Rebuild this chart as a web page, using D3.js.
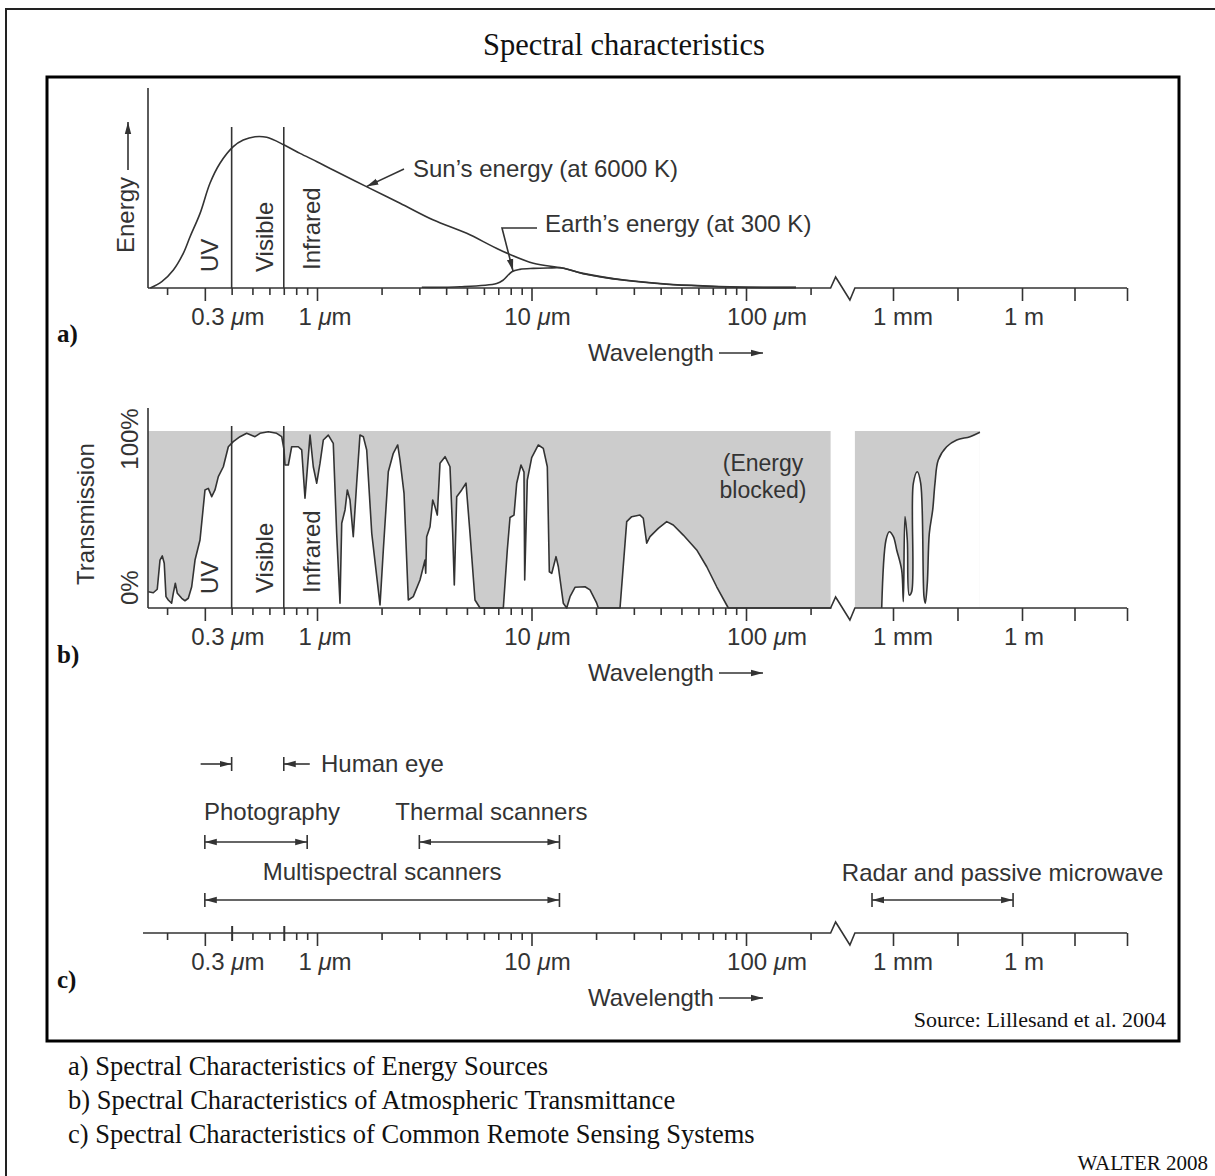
<!DOCTYPE html>
<html>
<head>
<meta charset="utf-8">
<title>Spectral characteristics</title>
<script src="https://cdn.jsdelivr.net/npm/d3@7"></script>
<style>
  html, body { margin: 0; padding: 0; background: #fff; }
  svg { display: block; }
</style>
</head>
<body>
<svg id="chart" width="1215" height="1176"></svg>
<script>
// ---------- data ----------
// wavelength ticks, near-infrared side of the break (micrometres)
const nearMajorTicks = [0.3, 1, 10, 100];
const nearMinorTicks = [0.2, 0.4, 0.5, 0.6, 0.7, 0.8, 0.9,
                        2, 3, 4, 5, 6, 7, 8, 9,
                        20, 30, 40, 50, 60, 70, 80, 90, 200];
const nearTickLabels = ["0.3 μm", "1 μm", "10 μm", "100 μm"];
// far side of the break (millimetres)
const farTicks = [1, 31.6, 1000, 10000, 100000];
const farLabelTicks = [1, 1000];
const farTickLabels = ["1 mm", "1 m"];

// spectral region boundaries (μm) and names
const regionBounds = [0.4, 0.7];
const regionNames = ["UV", "Visible", "Infrared"];

// a) energy curves: [wavelength μm, relative energy]
const sunEnergy = [
  [0.167, 0], [0.189, 3.2], [0.214, 9.1], [0.238, 17.5], [0.256, 25.9], [0.285, 37.7],
  [0.317, 52.9], [0.353, 63], [0.407, 71.4], [0.453, 74.7], [0.514, 76.4], [0.583, 76.1],
  [0.704, 72.2], [0.833, 68], [1.0, 63.8], [1.19, 59.6], [1.70, 51.2], [2.44, 42.8],
  [3.49, 34.3], [4.99, 27.6], [7.13, 19.2], [10.2, 12.5], [13.9, 10.1], [17.4, 7.4],
  [27.1, 4.0], [42.4, 2.0], [66.2, 1.0], [103, 0.4], [171, 0.35]
];
const earthEnergy = [
  [3.08, 0.35], [4.65, 0.6], [6.88, 2.3], [7.38, 4.0], [8.1, 8.2], [8.83, 9.4],
  [10.2, 9.9], [11.9, 10.1], [13.9, 10.1], [17.4, 7.2], [27.1, 3.9], [42.4, 1.9],
  [66.2, 0.9], [103, 0.3], [171, 0.2]
];

// b) atmospheric transmission: [wavelength μm, percent]
const transmissionNear = [
  [0.1635, 9.2], [0.1725, 8.6], [0.180, 10.6], [0.1854, 27.1], [0.190, 29.4], [0.194, 25.3],
  [0.1977, 6.4], [0.2026, 4.5], [0.210, 2.7], [0.2138, 8.3], [0.2185, 14], [0.2233, 8.3],
  [0.234, 5.5], [0.2424, 4.1], [0.2512, 5.5], [0.2605, 12], [0.270, 27.1], [0.2848, 38.4],
  [0.3005, 66.7], [0.3113, 67.6], [0.323, 62.9], [0.3345, 66.7], [0.3467, 74.2], [0.3658, 79.8],
  [0.386, 91.1], [0.407, 94], [0.4375, 96.8], [0.470, 98.7], [0.514, 96.8], [0.5424, 98.7],
  [0.593, 99.6], [0.6487, 98.7], [0.6845, 96.8], [0.702, 89.3], [0.709, 80.8], [0.735, 80.8],
  [0.762, 91.1], [0.818, 91.1], [0.8486, 89.3], [0.879, 62], [0.928, 97.7], [0.961, 79.8],
  [0.997, 70.5], [1.033, 81.8], [1.07, 94.9], [1.129, 97.7], [1.191, 93], [1.235, 42.2],
  [1.28, 2.7], [1.304, 47.9], [1.351, 55.4], [1.385, 66.7], [1.425, 61], [1.476, 40.3],
  [1.531, 70.5], [1.586, 97.7], [1.644, 96.8], [1.705, 89.3], [1.80, 42.2], [1.967, 1.7],
  [2.038, 32.8], [2.15, 77], [2.268, 87.4], [2.378, 92.1], [2.438, 83.6], [2.545, 64.8],
  [2.665, 4.5], [2.81, 6.4], [3.021, 15.8], [3.188, 27.1], [3.212, 19.6], [3.246, 40.3],
  [3.364, 45.9], [3.463, 61], [3.549, 57.2], [3.638, 52.5], [3.745, 81.8], [3.953, 85.5],
  [4.169, 79.8], [4.292, 42.2], [4.366, 13], [4.48, 62.9], [4.727, 66.7], [4.951, 70.5],
  [5.168, 42.2], [5.452, 4.5], [5.753, 0], [7.389, 0], [7.713, 32.8], [7.94, 51.1],
  [8.286, 52.5], [8.531, 70.5], [8.933, 80.8], [9.226, 76.8], [9.296, 15.8], [9.559, 72.3],
  [10.02, 85], [10.76, 92.1], [11.35, 90.2], [11.85, 79.8], [12.11, 20.5], [12.43, 19.6],
  [13.01, 29], [13.34, 23.3], [14.07, 2.7], [14.59, 0], [15.12, 6.4], [15.95, 11.7],
  [17.76, 12], [18.74, 10.2], [20.14, 2.7], [20.49, 0], [25.86, 0], [27.79, 48.8],
  [29.32, 51.6], [32.05, 52.5], [33.2, 50.7], [34.44, 36.6], [35.68, 40.3], [39, 45],
  [42.7, 48.8], [45.8, 46.9], [51, 41.2], [58.9, 32.8], [65.6, 23.3], [73, 12],
  [82.7, 0], [250, 0]
];
// [wavelength mm, percent]
const transmissionFar = [
  [0.546, 0], [0.687, 38.4], [0.82, 43.1], [1.02, 40.3], [1.22, 32.8], [1.59, 21.5],
  [1.74, 3.6], [1.90, 51.6], [2.15, 38.4], [2.39, 7.3], [2.72, 9.2], [2.97, 70.4],
  [3.67, 77], [4.41, 70.4], [5.26, 6.4], [5.64, 2.7], [6.28, 14], [6.99, 42.2],
  [8.38, 55.4], [9.48, 70.6], [11.3, 83.6], [17.7, 91.1], [30.3, 94.9], [61.8, 96.8],
  [105, 99.3]
];
// wavelength spans shaded as blocked (near in μm, far in mm)
const blockedNear = [0.163, 248];
const blockedFar = [0.13, 105];

// c) remote sensing systems
const humanEye = [0.4, 0.7];
const systemNames = ["Photography", "Thermal scanners", "Multispectral scanners", "Radar and passive microwave"];
const systemFrom = [0.3, 3, 0.3, 0.325];
const systemTo = [0.9, 13.5, 13.5, 620];
const systemUnits = ["μm", "μm", "μm", "mm"];

const captions = [
  "a) Spectral Characteristics of Energy Sources",
  "b) Spectral Characteristics of Atmospheric Transmittance",
  "c) Spectral Characteristics of Common Remote Sensing Systems"
];

// ---------- setup ----------
const INK = "#333";
const SANS = "'Liberation Sans', Arial, Helvetica, sans-serif";
const SERIF = "'Liberation Serif', 'Times New Roman', Times, serif";
const svg = d3.select("#chart");

const xNear = d3.scaleLog().domain([1, 100]).range([317, 746]);
const xFar = d3.scaleLog().domain([1, 1000, 100000]).range([893, 1022, 1127]);
const xAny = (v, unit) => unit === "mm" ? xFar(v) : xNear(v);

const axisYs = [288, 608, 933];
const yEnergy = d3.scaleLinear().domain([0, 100]).range([axisYs[0], 90]);
const yTrans = d3.scaleLinear().domain([0, 100]).range([axisYs[1], 431]);

const defs = svg.append("defs");
defs.append("marker")
  .attr("id", "head")
  .attr("viewBox", "0 0 12 8")
  .attr("refX", 12).attr("refY", 4)
  .attr("markerWidth", 12).attr("markerHeight", 8)
  .attr("markerUnits", "userSpaceOnUse")
  .attr("orient", "auto-start-reverse")
  .append("path").attr("d", "M0,0.8L12,4L0,7.2Z").attr("fill", INK);

// frames
svg.append("rect").attr("x", 6).attr("y", 9).attr("width", 1400).attr("height", 1400)
  .attr("fill", "none").attr("stroke", "#222").attr("stroke-width", 2);
svg.append("rect").attr("x", 47).attr("y", 77).attr("width", 1132).attr("height", 964)
  .attr("fill", "none").attr("stroke", "#000").attr("stroke-width", 3);

svg.append("text").attr("x", 624).attr("y", 55).attr("text-anchor", "middle")
  .attr("font-family", SERIF).attr("font-size", 30.5).attr("fill", "#111")
  .text("Spectral characteristics");

const plot = svg.append("g").attr("font-family", SANS).attr("font-size", 24).attr("fill", INK);

function line(g, x1, y1, x2, y2, arrow) {
  const l = g.append("line").attr("x1", x1).attr("y1", y1).attr("x2", x2).attr("y2", y2)
    .attr("stroke", INK).attr("stroke-width", 1.6);
  if (arrow) l.attr("marker-end", "url(#head)");
  return l;
}
function vtext(g, x, y, s, anchor) {
  return g.append("text").attr("transform", `translate(${x},${y}) rotate(-90)`)
    .attr("text-anchor", anchor || "start").text(s);
}
function unitText(g, x, y, label) {
  const t = g.append("text").attr("x", x).attr("y", y).attr("text-anchor", "middle");
  const parts = label.split("μ");
  t.append("tspan").text(parts[0]);
  if (parts.length > 1) {
    t.append("tspan").attr("font-style", "italic").text("μ");
    t.append("tspan").text(parts[1]);
  }
  return t;
}

// wavelength axis with a broken scale
const nearLabelNudge = [23, 8, 6, 21];
const farLabelNudge = [10, 2];
function wavelengthAxis(y, x0, crossTicks) {
  const g = plot.append("g");
  const b0 = xNear(blockedNear[1]), b1 = xFar(blockedFar[0]);
  g.append("path")
    .attr("d", `M${x0},${y}H${b0}L${b0 + 5},${y - 11}L${b1 - 5},${y + 12}L${b1},${y}H${xFar(farTicks[farTicks.length - 1])}`)
    .attr("fill", "none").attr("stroke", INK).attr("stroke-width", 1.6).attr("stroke-linejoin", "miter");
  const ticks = g.append("g").attr("transform", `translate(0,${y})`);
  ticks.append("g").attr("class", "minor")
    .call(d3.axisBottom(xNear).tickValues(nearMinorTicks).tickSize(7).tickFormat(""));
  ticks.append("g")
    .call(d3.axisBottom(xNear).tickValues(nearMajorTicks).tickSize(13).tickFormat(""));
  ticks.append("g")
    .call(d3.axisBottom(xFar).tickValues(farTicks).tickSize(13).tickFormat(""));
  ticks.selectAll(".domain").remove();
  ticks.selectAll("line").attr("stroke", INK).attr("stroke-width", 1.6);
  if (crossTicks) {
    ticks.select(".minor").selectAll(".tick")
      .filter(d => crossTicks.includes(d))
      .select("line").attr("y1", -7).attr("y2", 8).attr("stroke-width", 2);
  }
  nearMajorTicks.forEach((v, i) => unitText(g, xNear(v) + nearLabelNudge[i], y + 37, nearTickLabels[i]));
  farLabelTicks.forEach((v, i) => unitText(g, xFar(v) + farLabelNudge[i], y + 37, farTickLabels[i]));
  g.append("text").attr("x", 588).attr("y", y + 73).text("Wavelength");
  line(g, 719, y + 65, 763, y + 65, true);
}

function panelTag(y, s) {
  svg.append("text").attr("x", 57).attr("y", y).attr("font-family", SERIF)
    .attr("font-weight", "bold").attr("font-size", 25).attr("fill", "#111").text(s);
}

// ---------- a) energy sources ----------
const ga = plot.append("g");
line(ga, 148, 88, 148, axisYs[0]);
regionBounds.forEach(b => line(ga, xNear(b), 127, xNear(b), axisYs[0]));
const energyLine = d3.line().x(d => xNear(d[0])).y(d => yEnergy(d[1])).curve(d3.curveCatmullRom.alpha(0.5));
ga.append("path").attr("d", energyLine(earthEnergy)).attr("fill", "none").attr("stroke", INK).attr("stroke-width", 1.6);
ga.append("path").attr("d", energyLine(sunEnergy)).attr("fill", "none").attr("stroke", INK).attr("stroke-width", 1.6);
vtext(ga, 218, 272, regionNames[0]);
vtext(ga, 273, 272, regionNames[1]);
vtext(ga, 320, 270, regionNames[2]);
vtext(ga, 134, 253, "Energy");
line(ga, 128, 170, 128, 122, true);
ga.append("text").attr("x", 413).attr("y", 177).text("Sun’s energy (at 6000 K)");
line(ga, 404, 169, xNear(1.7), yEnergy(51.2), true);
ga.append("text").attr("x", 545).attr("y", 232).text("Earth’s energy (at 300 K)");
ga.append("path").attr("d", `M537,228H502L${xNear(8.2)},${yEnergy(8.6)}`)
  .attr("fill", "none").attr("stroke", INK).attr("stroke-width", 1.6).attr("marker-end", "url(#head)");
wavelengthAxis(axisYs[0], 148);
panelTag(342, "a)");

// ---------- b) atmospheric transmission ----------
const gb = plot.append("g");
gb.append("rect").attr("x", xNear(blockedNear[0])).attr("y", yTrans(100))
  .attr("width", xNear(blockedNear[1]) - xNear(blockedNear[0])).attr("height", yTrans(0) - yTrans(100))
  .attr("fill", "#cccccc");
gb.append("rect").attr("x", xFar(blockedFar[0])).attr("y", yTrans(100))
  .attr("width", xFar(blockedFar[1]) - xFar(blockedFar[0])).attr("height", yTrans(0) - yTrans(100))
  .attr("fill", "#cccccc");
const nearArea = d3.area().x(d => xNear(d[0])).y0(yTrans(0)).y1(d => yTrans(d[1]));
const farArea = d3.area().x(d => xFar(d[0])).y0(yTrans(0)).y1(d => yTrans(d[1]))
  .curve(d3.curveCatmullRom.alpha(0.5));
const nearLine = d3.line().x(d => xNear(d[0])).y(d => yTrans(d[1]));
const farLine = d3.line().x(d => xFar(d[0])).y(d => yTrans(d[1])).curve(d3.curveCatmullRom.alpha(0.5));
gb.append("path").attr("d", nearArea(transmissionNear)).attr("fill", "#fff");
gb.append("path").attr("d", farArea(transmissionFar)).attr("fill", "#fff");
gb.append("path").attr("d", nearLine(transmissionNear)).attr("fill", "none")
  .attr("stroke", INK).attr("stroke-width", 1.6).attr("stroke-linejoin", "round");
gb.append("path").attr("d", farLine(transmissionFar)).attr("fill", "none")
  .attr("stroke", INK).attr("stroke-width", 1.6).attr("stroke-linejoin", "round");
line(gb, 148, 408, 148, axisYs[1]);
regionBounds.forEach(b => line(gb, xNear(b), 426, xNear(b), axisYs[1]));
vtext(gb, 218, 594, regionNames[0]);
vtext(gb, 273, 593, regionNames[1]);
vtext(gb, 320, 593, regionNames[2]);
vtext(gb, 138, yTrans(100) + 8, "100%", "middle");
vtext(gb, 138, yTrans(0) - 3, "0%");
vtext(gb, 94, 514, "Transmission", "middle");
const blockedNote = gb.append("g").attr("font-size", 23).attr("text-anchor", "middle");
blockedNote.append("text").attr("x", 763).attr("y", 471).text("(Energy");
blockedNote.append("text").attr("x", 763).attr("y", 498).text("blocked)");
wavelengthAxis(axisYs[1], 148);
panelTag(663, "b)");

// ---------- c) remote sensing systems ----------
const gc = plot.append("g");
function endBar(g, x, y) { line(g, x, y - 7, x, y + 7); }
// human eye
const eyeY = 764;
line(gc, xNear(humanEye[0]) - 31, eyeY, xNear(humanEye[0]), eyeY, true);
endBar(gc, xNear(humanEye[0]), eyeY);
line(gc, xNear(humanEye[1]) + 26, eyeY, xNear(humanEye[1]), eyeY, true);
endBar(gc, xNear(humanEye[1]), eyeY);
gc.append("text").attr("x", 321).attr("y", eyeY + 8).text("Human eye");
// system ranges
const rowArrowY = [842, 842, 900, 900];
const rowLabelY = [820, 820, 880, 881];
const labelNudge = [16, 2, 0, 60];
systemNames.forEach((name, i) => {
  const x1 = xAny(systemFrom[i], systemUnits[i]);
  const x2 = xAny(systemTo[i], systemUnits[i]);
  const y = rowArrowY[i];
  gc.append("line").attr("x1", x1).attr("y1", y).attr("x2", x2).attr("y2", y)
    .attr("stroke", INK).attr("stroke-width", 1.6)
    .attr("marker-start", "url(#head)").attr("marker-end", "url(#head)");
  endBar(gc, x1, y);
  endBar(gc, x2, y);
  gc.append("text").attr("x", (x1 + x2) / 2 + labelNudge[i]).attr("y", rowLabelY[i])
    .attr("text-anchor", "middle").text(name);
});
wavelengthAxis(axisYs[2], 143, regionBounds);
panelTag(988, "c)");

// ---------- source and captions ----------
svg.append("text").attr("x", 1166).attr("y", 1027).attr("text-anchor", "end")
  .attr("font-family", SERIF).attr("font-size", 22).attr("fill", "#111")
  .text("Source: Lillesand et al. 2004");
captions.forEach((c, i) => {
  svg.append("text").attr("x", 68).attr("y", 1075 + i * 34)
    .attr("font-family", SERIF).attr("font-size", 26.5).attr("fill", "#111").text(c);
});
svg.append("text").attr("x", 1208).attr("y", 1170).attr("text-anchor", "end")
  .attr("font-family", SERIF).attr("font-size", 21).attr("fill", "#111").text("WALTER 2008");
</script>
</body>
</html>
